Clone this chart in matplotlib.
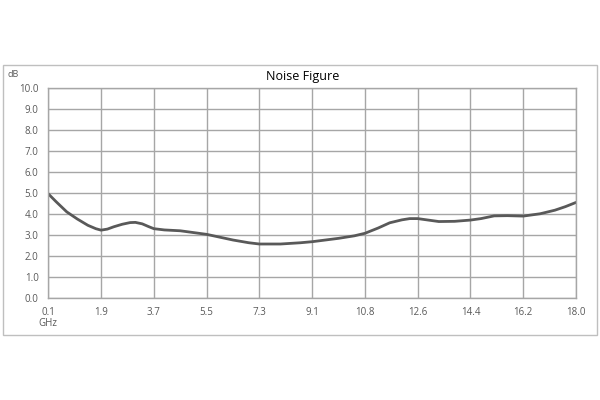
import matplotlib.pyplot as plt
from matplotlib.patches import Rectangle

# category axis: evenly spaced frequency labels (GHz)
freq_labels = ["0.1", "1.9", "3.7", "5.5", "7.3", "9.1", "10.8", "12.6", "14.4", "16.2", "18.0"]
y_ticks = [0, 1, 2, 3, 4, 5, 6, 7, 8, 9, 10]

# curve points (x in category units)
nf_pos = [0.0, 0.15, 0.35, 0.55, 0.75, 0.9, 1.0, 1.12, 1.24, 1.4, 1.55, 1.65, 1.78, 1.9,
          2.0, 2.2, 2.5, 3.0, 3.5, 3.8, 4.0, 4.4, 4.78, 5.0, 5.5, 5.8, 6.0, 6.25, 6.47,
          6.7, 6.85, 7.0, 7.2, 7.4, 7.7, 8.0, 8.2, 8.45, 8.7, 9.0, 9.32, 9.6, 9.8, 10.0]
nf_db = [4.98, 4.60, 4.12, 3.78, 3.48, 3.32, 3.25, 3.30, 3.41, 3.53, 3.61, 3.62, 3.55, 3.42,
         3.32, 3.26, 3.22, 3.05, 2.78, 2.65, 2.59, 2.59, 2.65, 2.70, 2.86, 2.98, 3.10, 3.35,
         3.60, 3.74, 3.80, 3.80, 3.73, 3.66, 3.67, 3.73, 3.80, 3.93, 3.94, 3.92, 4.03, 4.20,
         4.37, 4.57]

plt.rcParams['font.family'] = ['Open Sans', 'DejaVu Sans']

fig = plt.figure(figsize=(6, 4), dpi=100)
fig.patches.append(Rectangle((0.005, 0.1625), 0.99, 0.675, transform=fig.transFigure,
                             fill=False, edgecolor="#bfbfbf", linewidth=1))

ax = fig.add_axes([0.0805, 0.254, 0.8795, 0.525])
ax.plot(nf_pos, nf_db, color="#595959", linewidth=2, solid_capstyle="round",
        solid_joinstyle="round")

ax.set_xlim(0, len(freq_labels) - 1)
ax.set_ylim(0, 10)
ax.set_xticks(range(len(freq_labels)))
ax.set_xticklabels(freq_labels)
ax.set_yticks(y_ticks)
ax.set_yticklabels([f"{v:.1f}" for v in y_ticks])
ax.tick_params(length=0, labelsize=7, labelcolor="#595959")
ax.tick_params(axis="x", pad=6)
ax.tick_params(axis="y", pad=7)
ax.grid(True, color="#a6a6a6", linewidth=1)
ax.set_axisbelow(True)
for s in ax.spines.values():
    s.set_color("#a6a6a6")
    s.set_linewidth(1)

fig.text(0.505, 0.808, "Noise Figure", ha="center", va="center", fontsize=9, color="#000000")
fig.text(0.012, 0.814, "dB", ha="left", va="center", fontsize=6.5, color="#595959")
fig.text(0.0805, 0.19, "GHz", ha="center", va="center", fontsize=7, color="#595959")

fig.savefig("out.png", dpi=100)
